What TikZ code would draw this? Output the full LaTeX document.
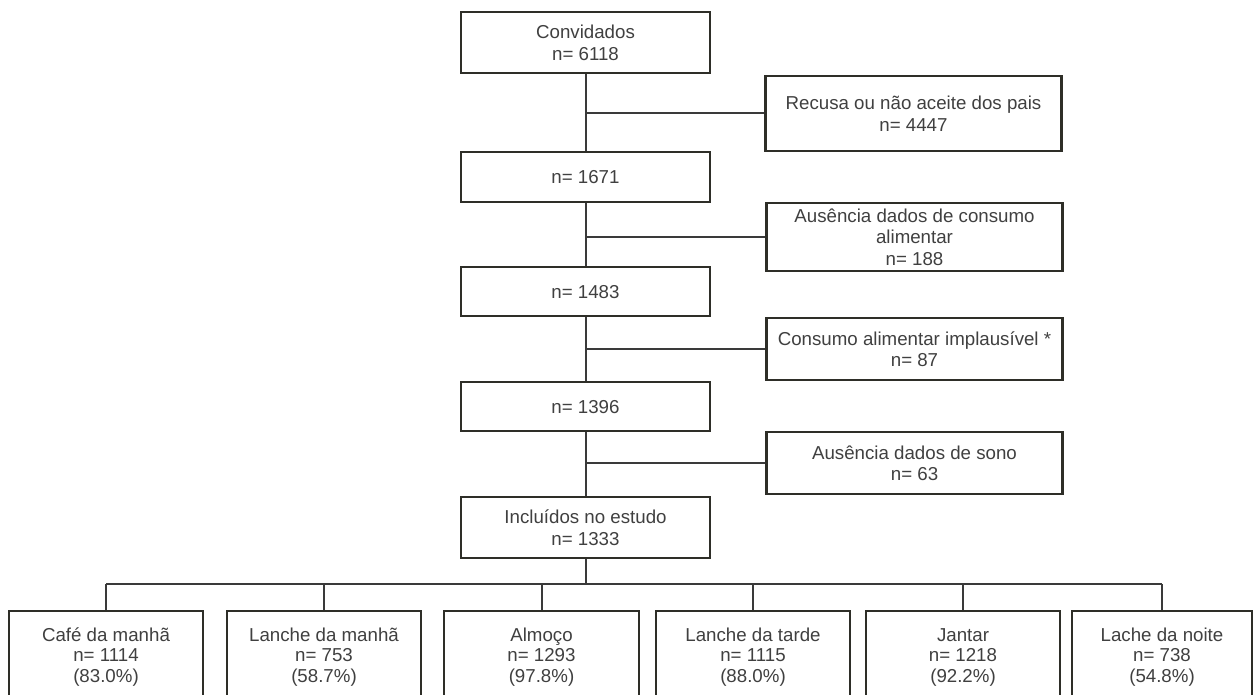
\documentclass[tikz,border=0pt]{standalone}
\usepackage{fontspec}
\setmainfont{Liberation Sans}
\definecolor{boxc}{HTML}{2E2E28}
\definecolor{linec}{HTML}{3A3A3A}
\definecolor{txtc}{HTML}{404040}
\begin{document}
\begin{tikzpicture}[x=1pt,y=-1pt,
  box/.style={draw=boxc, line width=2.2pt, fill=white, text=txtc, align=center,
    inner sep=0pt, text height=14pt, font=\fontsize{18.7}{21.6}\selectfont},
  two/.style={text height=35.6pt},
  three/.style={text height=57.2pt},
  mainbox/.style={box, minimum width=249pt},
  sidebox/.style={box, minimum width=296pt},
  mealbox/.style={box, minimum width=194pt, minimum height=91pt, text height=55pt,
    font=\fontsize{18.7}{20.5}\selectfont},
  conn/.style={draw=linec, line width=2pt}]
\useasboundingbox (0,0) rectangle (1257,695);
% main column
\node[mainbox, two, minimum height=61pt] (b1) at (585.5,42.5) {Convidados\\n= 6118};
\node[mainbox, minimum height=50pt] (b2) at (585.5,177) {n= 1671};
\node[mainbox, minimum height=49pt] (b3) at (585.5,291.5) {n= 1483};
\node[mainbox, minimum height=49pt] (b4) at (585.5,406.5) {n= 1396};
\node[mainbox, two, minimum height=61pt] (b5) at (585.5,527.5) {Incluídos no estudo\\n= 1333};
% exclusions
\node[sidebox, two, minimum height=75pt] (r1) at (913.5,113.5) {Recusa ou não aceite dos pais\\n= 4447};
\node[sidebox, three, minimum height=68pt] (r2) at (914.5,237) {Ausência dados de consumo\\alimentar\\n= 188};
\node[sidebox, two, minimum height=62pt] (r3) at (914.5,349) {Consumo alimentar implausível *\\n= 87};
\node[sidebox, two, minimum height=62pt] (r4) at (914.5,463) {Ausência dados de sono\\n= 63};
% meals
\node[mealbox] (c1) at (106,656.5) {Café da manhã\\n= 1114\\(83.0\%)};
\node[mealbox] (c2) at (324,656.5) {Lanche da manhã\\n= 753\\(58.7\%)};
\node[mealbox, minimum width=195pt] (c3) at (541.5,656.5) {Almoço\\n= 1293\\(97.8\%)};
\node[mealbox] (c4) at (753,656.5) {Lanche da tarde\\n= 1115\\(88.0\%)};
\node[mealbox] (c5) at (963,656.5) {Jantar\\n= 1218\\(92.2\%)};
\node[mealbox, minimum width=180pt] (c6) at (1162,656.5) {Lache da noite\\n= 738\\(54.8\%)};
% vertical flow
\draw[conn] (b1) -- (b2);
\draw[conn] (b2) -- (b3);
\draw[conn] (b3) -- (b4);
\draw[conn] (b4) -- (b5);
% branches
\draw[conn] (b1.south |- r1.west) -- (r1.west);
\draw[conn] (b2.south |- r2.west) -- (r2.west);
\draw[conn] (b3.south |- r3.west) -- (r3.west);
\draw[conn] (b4.south |- r4.west) -- (r4.west);
% bus
\coordinate (bus) at (585.5,584);
\draw[conn] (b5) -- (bus);
\draw[conn] (c1.north |- bus) -- (c6.north |- bus);
\foreach \c in {c1,c2,c3,c4,c5,c6} \draw[conn] (\c.north |- bus) -- (\c.north);
\end{tikzpicture}
\end{document}
